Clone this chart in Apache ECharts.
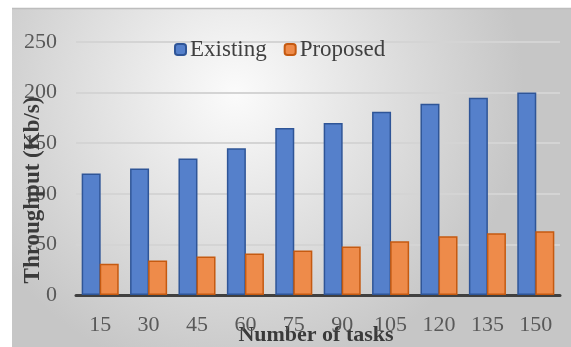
<!DOCTYPE html>
<html>
<head>
<meta charset="utf-8">
<script src="https://cdn.jsdelivr.net/npm/echarts@6/dist/echarts.min.js"></script>
<style>html,body{margin:0;padding:0;background:#fff}#c{width:571px;height:347px}</style>
</head>
<body>
<div id="c"></div>
<script>
var categories = ['15','30','45','60','75','90','105','120','135','150'];
var existing = [120,125,135,145,165,170,181,189,195,200];
var proposed = [31,34,38,41,44,48,53,58,61,63];
var yTicks = [0,50,100,150,200,250];
var yTitle = 'Throughput (Kb/s)';
var xTitle = 'Number of tasks';

var chart = echarts.init(document.getElementById('c'), null, {renderer:'canvas'});
var font = "'Liberation Serif', 'Times New Roman', serif";
chart.setOption({
  animation:false,
  graphic:[
    {type:'rect', z:-10, silent:true, shape:{x:12,y:8,width:559,height:339},
     style:{fill:new echarts.graphic.RadialGradient(0.4,0.25,0.85,[{offset:0,color:'#fbfbfb'},{offset:1,color:'#c6c6c6'}])}},
    {type:'line', z:-9, silent:true, shape:{x1:12,y1:8.5,x2:571,y2:8.5}, style:{stroke:'#bdbdbd',lineWidth:1.5}},
    {type:'text', z:100, silent:true, x:33, y:190, rotation:Math.PI/2,
     style:{text:yTitle, font:"bold 23px 'Liberation Serif', 'Times New Roman', serif", fill:'#3a3a3a', align:'center', verticalAlign:'middle'}}
  ],
  legend:{
    top:33, left:169, itemWidth:11, itemHeight:11, itemGap:17,
    textStyle:{fontFamily:font, fontSize:23, color:'#404040', padding:[0,0,0,-1]},
    data:['Existing','Proposed']
  },
  grid:{left:76, right:11, top:42, bottom:52, containLabel:false, outerBoundsMode:'none'},
  xAxis:{
    type:'category', data:categories,
    axisLine:{lineStyle:{color:'#404040', width:3}},
    axisTick:{show:false},
    axisLabel:{fontFamily:font, fontSize:22, color:'#595959', margin:19},
    name:xTitle, nameLocation:'middle', nameGap:29, nameMoveOverlap:false,
    nameTextStyle:{fontFamily:font, fontSize:22, fontWeight:'bold', color:'#3a3a3a', padding:[0,0,0,-4]}
  },
  yAxis:{
    type:'value', min:0, max:250, interval:50,
    axisLine:{show:false}, axisTick:{show:false},
    splitLine:{lineStyle:{color:'#d4d4d4', width:2}},
    axisLabel:{fontFamily:font, fontSize:22, color:'#595959', margin:19,
      formatter:function(v){return yTicks.indexOf(v)>=0?String(v):'';}}
  },
  series:[
    {name:'Existing', type:'bar', data:existing, barWidth:19, barGap:'-5%',
     itemStyle:{color:'#5580cb', borderColor:'#2f5597', borderWidth:1.5}},
    {name:'Proposed', type:'bar', data:proposed, barWidth:19,
     itemStyle:{color:'#ee8b4a', borderColor:'#c55a11', borderWidth:1.5}}
  ]
});
</script>
</body>
</html>
